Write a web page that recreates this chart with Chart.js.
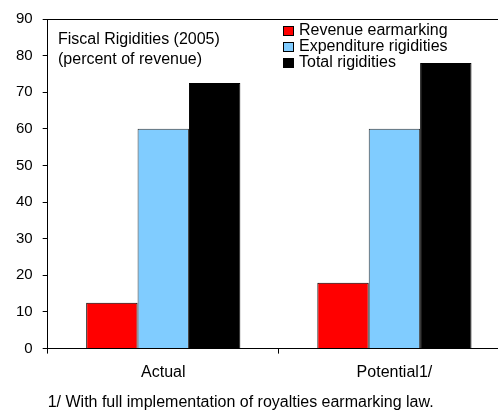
<!DOCTYPE html>
<html>
<head>
<meta charset="utf-8">
<script src="https://cdn.jsdelivr.net/npm/chart.js@4"></script>
<style>
  html, body { margin: 0; padding: 0; background: #fff; overflow: hidden; }
  #wrap { width: 498px; height: 412px; overflow: hidden; }
</style>
</head>
<body>
<div id="wrap"><canvas id="rigidityChart" width="512" height="412"></canvas></div>
<script>
const categories = ['Actual', 'Potential1/'];
const revenueEarmarking = [12.5, 18];
const expenditureRigidities = [60, 60];
const totalRigidities = [72.5, 78];
const yTicks = [0, 10, 20, 30, 40, 50, 60, 70, 80, 90];

const FONT = 'Arial, "Liberation Sans", sans-serif';

// frame line on top, the note and the stacked legend inside the plot
const decorations = {
  id: 'decorations',
  afterDraw(chart) {
    const ctx = chart.ctx;
    const area = chart.chartArea;
    ctx.save();
    ctx.strokeStyle = '#000';
    ctx.lineWidth = 1;
    ctx.beginPath();
    ctx.moveTo(area.left, area.top + 0.5);
    ctx.lineTo(area.right, area.top + 0.5);
    ctx.stroke();

    ctx.fillStyle = '#000';
    ctx.font = '16px ' + FONT;
    ctx.textBaseline = 'middle';
    ctx.textAlign = 'left';
    ctx.fillText('Fiscal Rigidities (2005)', 58, 40);
    ctx.fillText('(percent of revenue)', 58, 60);

    chart.data.datasets.forEach((ds, i) => {
      const y = 26 + i * 16;
      ctx.fillStyle = ds.backgroundColor;
      ctx.fillRect(283.5, y + 0.5, 10, 9);
      ctx.strokeStyle = '#000';
      ctx.lineWidth = 1;
      ctx.strokeRect(283.5, y + 0.5, 10, 9);
      ctx.fillStyle = '#000';
      ctx.fillText(ds.label, 299, y + 5);
    });
    ctx.restore();
  }
};

const ctx = document.getElementById('rigidityChart').getContext('2d');
new Chart(ctx, {
  type: 'bar',
  data: {
    labels: categories,
    datasets: [
      {
        label: 'Revenue earmarking',
        data: revenueEarmarking,
        backgroundColor: '#ff0000',
        borderColor: '#000',
        borderWidth: 1
      },
      {
        label: 'Expenditure rigidities',
        data: expenditureRigidities,
        backgroundColor: '#80ccff',
        borderColor: '#333',
        borderWidth: 1
      },
      {
        label: 'Total rigidities',
        data: totalRigidities,
        backgroundColor: '#000000',
        borderColor: '#000',
        borderWidth: 1
      }
    ]
  },
  options: {
    responsive: false,
    animation: false,
    devicePixelRatio: 1,
    layout: { padding: { left: 6, top: 10, right: 2, bottom: 0 } },
    datasets: {
      bar: { categoryPercentage: 0.667, barPercentage: 1.0 }
    },
    plugins: {
      legend: { display: false },
      tooltip: { enabled: false }
    },
    scales: {
      x: {
        offset: true,
        grid: {
          offset: true,
          drawOnChartArea: false,
          tickLength: 5,
          color: '#000'
        },
        border: { color: '#000', width: 1 },
        ticks: {
          color: '#000',
          padding: 9,
          font: { family: FONT, size: 16 }
        },
        title: {
          display: true,
          align: 'start',
          text: '1/ With full implementation of royalties earmarking law.',
          color: '#000',
          padding: { top: 2, bottom: 0 },
          font: { family: FONT, size: 16 }
        }
      },
      y: {
        min: 0,
        max: 90,
        afterBuildTicks(axis) {
          axis.ticks = yTicks.map(v => ({ value: v }));
        },
        grid: {
          drawOnChartArea: false,
          tickLength: 5,
          color: '#000'
        },
        border: { color: '#000', width: 1 },
        ticks: {
          color: '#000',
          padding: 10,
          font: { family: FONT, size: 15 }
        }
      }
    }
  },
  plugins: [decorations]
});
</script>
</body>
</html>
